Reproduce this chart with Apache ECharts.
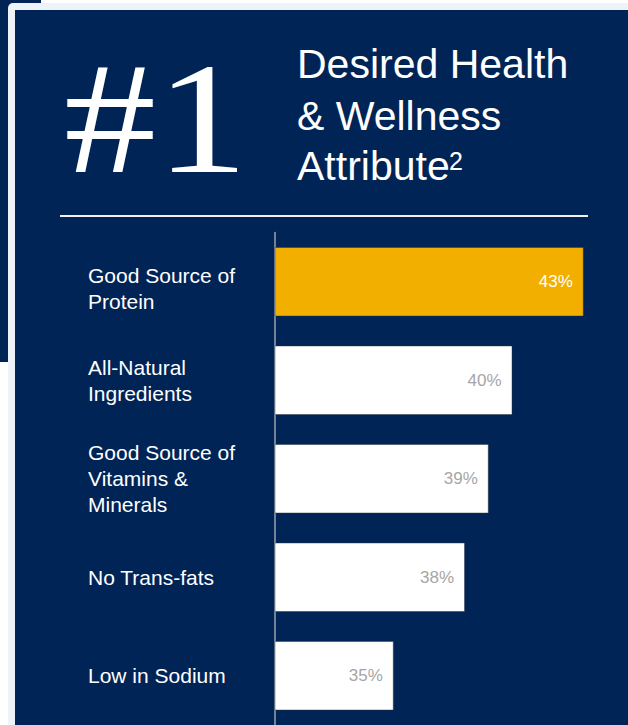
<!DOCTYPE html>
<html>
<head>
<meta charset="utf-8">
<title>Desired Health & Wellness Attribute</title>
<style>
  html, body { margin: 0; padding: 0; background: #ffffff; }
  #chart { width: 628px; height: 725px; }
</style>
<script src="https://cdn.jsdelivr.net/npm/echarts@6/dist/echarts.min.js"></script>
</head>
<body>
<div id="chart"></div>
<script>
// Survey results: share of respondents choosing each attribute
const categories = [
  'Good Source of\nProtein',
  'All-Natural\nIngredients',
  'Good Source of\nVitamins &\nMinerals',
  'No Trans-fats',
  'Low in Sodium'
];
const values = [43, 40, 39, 38, 35];
const headlineRank = '#1';
const headlineLines = ['Desired Health', '& Wellness', 'Attribute'];
const footnoteMark = '2';

const NAVY = '#012456';
const FRAME = '#eef2f9';
const GOLD = '#f2af00';
const SANS = '"Liberation Sans", Arial, Helvetica, sans-serif';
const SERIF = '"Liberation Serif", "Times New Roman", serif';

const chart = echarts.init(document.getElementById('chart'), null, { renderer: 'svg' });

const titleX = 297;
const titleRows = [64, 116, 165.5];

// category label: the top one sits a little lower than its bar centre,
// so it gets a short spacer line above it
function categoryLabel(value, index) {
  const lines = value.split('\n').map(l => '{t|' + l + '}');
  return (index === 0 ? ['{g| }'].concat(lines) : lines).join('\n');
}

chart.setOption({
  backgroundColor: '#ffffff',
  animation: false,
  graphic: [
    // panel behind the card
    { type: 'rect', z: -10, shape: { x: 0, y: 0, width: 41, height: 362 }, style: { fill: NAVY } },
    // card frame and body
    { type: 'rect', z: -9, shape: { x: 8, y: 3, width: 640, height: 740, r: 5 }, style: { fill: FRAME } },
    { type: 'rect', z: -8, shape: { x: 15, y: 10, width: 640, height: 740 }, style: { fill: NAVY } },
    // big rank number, stretched slightly wider
    {
      type: 'text', z: 5, x: 64, y: 118, scaleX: 1.15, scaleY: 1,
      style: { text: headlineRank, fill: '#ffffff', font: '160px ' + SERIF, verticalAlign: 'middle', align: 'left' }
    },
    // headline
    ...headlineLines.map((t, i) => ({
      type: 'text', z: 5, x: titleX, y: titleRows[i],
      style: { text: t, fill: '#ffffff', font: '41px ' + SANS, verticalAlign: 'middle', align: 'left' }
    })),
    {
      type: 'text', z: 5, x: 449, y: 161,
      style: { text: footnoteMark, fill: '#ffffff', font: '25px ' + SANS, verticalAlign: 'middle', align: 'left' }
    },
    // divider rule
    {
      type: 'line', z: 5,
      shape: { x1: 60, y1: 216, x2: 588, y2: 216 },
      style: { stroke: '#f0f0f0', lineWidth: 2 }
    }
  ],
  grid: { left: 275, right: 20.5, top: 232.5, bottom: 0, containLabel: false, outerBoundsMode: 'none' },
  xAxis: {
    type: 'value', min: 30, max: 44,
    show: false, splitLine: { show: false }
  },
  yAxis: {
    type: 'category', data: categories, inverse: true,
    axisLine: { show: true, lineStyle: { color: '#9aa2ae', width: 1.5 } },
    axisTick: { show: false },
    axisLabel: {
      align: 'left', margin: 187, color: '#ffffff',
      fontFamily: SANS, fontSize: 21, lineHeight: 26,
      formatter: categoryLabel,
      rich: {
        t: { fontFamily: SANS, fontSize: 21, lineHeight: 26, color: '#ffffff' },
        g: { fontSize: 1, lineHeight: 14 }
      }
    }
  },
  series: [{
    type: 'bar',
    data: values.map((v, i) => i === 0
      ? { value: v, label: { color: '#ffffff' } }
      : v),
    barCategoryGap: '29.4%',
    itemStyle: {
      color: p => (p.dataIndex === 0 ? GOLD : '#ffffff'),
      borderColor: 'rgba(40,48,60,0.45)',
      borderWidth: 1
    },
    label: {
      show: true, position: 'insideRight', distance: 11,
      formatter: p => p.value + '%',
      fontFamily: SANS, fontSize: 17,
      color: '#a6a6a6'
    }
  }]
});
</script>
</body>
</html>
